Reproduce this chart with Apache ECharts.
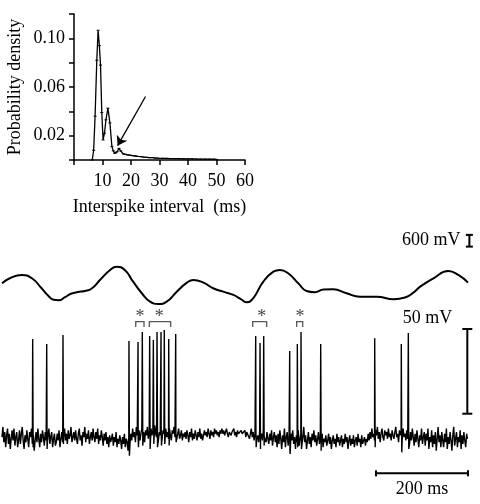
<!DOCTYPE html>
<html><head><meta charset="utf-8">
<script src="https://cdn.jsdelivr.net/npm/echarts@6/dist/echarts.min.js"></script>
<style>html,body{margin:0;padding:0;background:#fff}#c{width:480px;height:504px}</style>
</head><body><div id="c"></div>
<script>
// ---- Inset: interspike interval histogram ----
const isiX = [6.4,6.9,7.4,8.0,8.45,8.9,9.3,9.75,10.2,10.7,11.2,11.9,12.6,13.3,13.8,14.3,14.7,15.1,15.8,16.4,17.3,18.0,18.8,19.6,20.5,21.5,22.5,23.5,24.5,25.5,26.5,27.5,28.5,29.5,31.0,32.5,34.0,35.5,37.0,38.5,40.0,41.5,43.0,44.5,46.0,47.5,49.0,50.0];
const isiY = [0,0.008,0.036,0.082,0.1066,0.094,0.078,0.039,0.0165,0.022,0.033,0.0426,0.0305,0.011,0.0075,0.0055,0.006,0.0068,0.0096,0.0074,0.005,0.0047,0.0042,0.0040,0.0036,0.0033,0.0029,0.0028,0.0024,0.0022,0.0019,0.0020,0.0016,0.0015,0.0014,0.0013,0.0012,0.0011,0.0011,0.0010,0.0009,0.0010,0.0008,0.0007,0.0007,0.0006,0.0006,0.0005];
const isiYLabels = ['0.02','0.06','0.10'];
const arrowFrom = [25.1, 0.0522];
const arrowTo = [15.3, 0.0118];

// ---- Field potential (slow wave), time in ms, value in mV ----
const lfpT = [0,17,43,65,86,100,112,124,136,150,165,180,195,213,235,249,267,285,304,322,340,358,380,402,416,438,459,481,503,520,532,546,568,590,604,622,644,662,680,699,720,749,778,815,851,876,895,909,938,970,992,1013];
const lfpV = [66,322,491,322,-189,-560,-780,-800,-660,-470,-380,-330,-200,235,746,915,746,148,-445,-874,-991,-874,-363,97,235,97,-189,-363,-531,-760,-904,-700,148,659,746,577,66,-330,-390,-250,-240,-445,-618,-618,-751,-660,-400,-107,322,695,491,97];

// ---- Membrane potential trace: sampled every vmStep ms (mV) ----
const vmStep = 2;
const vmNoise = [
-60,-54,-63,-57,-66,-59,-55,-64,-58,-67,-61,-56,-62,-55,-65,-60,-57,-66,-62,-56,
-64,-58,-54,-62,-67,-59,-63,-56,-61,-66,-57,-60,-55,-64,-59,-68,-62,-57,-63,-55,
-61,-66,-58,-63,-56,-60,-65,-57,-62,-67,-59,-55,-64,-60,-57,-66,-61,-58,-65,-63,
-58,-62,-56,-66,-61,-57,-63,-59,-55,-62,-58,-64,-56,-61,-59,-54,-63,-60,-57,-62,
-56,-61,-64,-58,-55,-62,-59,-65,-57,-60,-54,-63,-58,-61,-56,-64,-60,-57,-62,-55,
-60,-63,-57,-61,-55,-64,-59,-62,-56,-60,-65,-58,-62,-57,-64,-60,-66,-59,-63,-61,
-58,-65,-60,-63,-57,-66,-61,-64,-59,-62,-67,-60,-64,-58,-66,-61,-63,-68,-60,-65,
-58,-62,-55,-60,-57,-63,-54,-59,-61,-56,-62,-58,-55,-60,-57,-63,-56,-59,-54,-61,
-57,-62,-55,-59,-56,-61,-53,-58,-60,-55,-62,-57,-59,-54,-61,-56,-58,-63,-55,-60,
-57,-61,-55,-59,-62,-56,-58,-54,-60,-57,-63,-58,-55,-61,-59,-56,-62,-58,-60,-57,
-61,-56,-59,-63,-57,-60,-55,-62,-58,-61,-56,-59,-62,-57,-60,-55,-61,-58,-62,-59,
-56,-59,-57,-60,-55,-58,-61,-56,-59,-57,-60,-55,-58,-56,-59,-57,-60,-56,-58,-55,
-58,-56,-59,-57,-55,-58,-60,-57,-56,-59,-57,-58,-55,-59,-57,-60,-56,-58,-57,-59,
-56,-58,-57,-59,-56,-60,-57,-58,-56,-61,-58,-55,-60,-57,-62,-58,-56,-61,-59,-63,
-57,-61,-58,-62,-56,-60,-59,-63,-57,-61,-64,-58,-62,-56,-65,-60,-57,-63,-59,-66,
-58,-64,-56,-61,-67,-59,-63,-55,-66,-60,-57,-65,-61,-68,-58,-62,-56,-64,-60,-67,
-59,-63,-56,-65,-61,-58,-66,-60,-54,-63,-59,-67,-62,-57,-64,-60,-66,-58,-62,-56,
-63,-59,-65,-61,-57,-64,-60,-62,-58,-66,-61,-63,-59,-65,-62,-58,-64,-60,-67,-62,
-59,-64,-61,-66,-58,-63,-60,-65,-62,-59,-66,-61,-64,-58,-63,-60,-67,-62,-59,-65,
-61,-64,-59,-66,-62,-60,-65,-58,-63,-61,-66,-59,-64,-62,-60,-65,-61,-63,-58,-62,
-57,-61,-55,-60,-58,-62,-56,-59,-54,-61,-57,-63,-58,-55,-60,-62,-56,-59,-57,-61,
-55,-60,-58,-62,-56,-59,-61,-57,-54,-60,-58,-63,-56,-59,-57,-61,-55,-60,-58,-62,
-56,-61,-58,-64,-57,-62,-55,-60,-65,-58,-63,-56,-61,-66,-59,-62,-55,-64,-60,-57,
-65,-58,-62,-55,-67,-60,-63,-56,-66,-59,-64,-57,-68,-61,-54,-63,-59,-66,-57,-62,
-66,-58,-63,-55,-67,-60,-64,-57,-62,-68,-59,-54,-65,-61,-57,-66,-60,-63,-56,-67,
-59,-64,-57,-62,-66,-58,-61];
const spikeT = [66.7,97.2,132.6,276,295.7,305,321,329,337,345.7,352.8,362.4,377.6,551.5,560.9,568.9,625.4,642,650,692.8,810.2,868,883.3];
const spikePeak = [-2.1,-5.1,0.2,-3.3,-3.9,2,-0.4,-2.7,2,2,3.2,-2.1,0.8,-0.4,-4.5,-0.4,-9.2,-5.1,2,-5.1,-1.6,-5.1,1.4];
const spikeTrough = [-66,-65,-64,-71,-66,-65,-67,-64,-66,-65,-64,-65,-63,-66,-67,-65,-70,-66,-67,-68,-66,-69,-67];

// ---- Burst markers ----
const bracketT0 = [290.7,320.2,545,640.6];
const bracketT1 = [308.7,366.7,575.4,653.7];
const asteriskT = [300,342,564.6,647.8];

// ---- Scale bars ----
const vmBar = {t:1011.5, lo:-46.2, hi:3.8, label:'50 mV'};
const timeBar = {t0:813, t1:1013, v:-81.4, label:'200 ms'};
const lfpBar = {t:1016, lo:1940, hi:2540, label:'600 mV'};

const FONT = 'Liberation Serif';
const isiData = isiX.map((x,i)=>[x,isiY[i]]);
const lfpData = lfpT.map((t,i)=>[t,lfpV[i]]);
const vmData = vmNoise.map((v,i)=>[i*vmStep,v]);
spikeT.forEach((t,k)=>{
  const pre = vmNoise[Math.floor(t/vmStep)];
  vmData.push([t-0.4,pre]);
  vmData.push([t,spikePeak[k]]);
  vmData.push([t+1.0,spikeTrough[k]]);
});
vmData.sort((a,b)=>a[0]-b[0]);

const chart = echarts.init(document.getElementById('c'), null, {renderer:'canvas'});
const txt = {fontFamily:FONT, fontSize:18, color:'#000'};
const hidden = {show:false};
chart.setOption({
  animation:false,
  backgroundColor:'#fff',
  grid:[
    {left:74, top:14, width:171, height:146},
    {left:2, top:220, width:466, height:90},
    {left:2, top:310, width:466, height:161}
  ],
  xAxis:[
    {gridIndex:0, type:'value', min:0, max:60, interval:10,
     axisLine:{lineStyle:{color:'#000',width:1.5}},
     axisTick:{inside:false,length:5,lineStyle:{color:'#000',width:1.5}},
     axisLabel:Object.assign({margin:12, formatter:v=>v===0?'':String(v)},txt),
     splitLine:hidden,
     name:'Interspike interval  (ms)', nameLocation:'middle', nameGap:38, nameTextStyle:txt},
    {gridIndex:1, type:'value', min:0, max:1013, show:false},
    {gridIndex:2, type:'value', min:0, max:1013, show:false}
  ],
  yAxis:[
    {gridIndex:0, type:'value', min:0, max:0.12, interval:0.02,
     axisLine:{show:true,lineStyle:{color:'#000',width:1.5}},
     axisTick:{show:true,inside:false,length:5,lineStyle:{color:'#000',width:1.5}},
     axisLabel:Object.assign({margin:9, formatter:v=>{const s=v.toFixed(2);return isiYLabels.includes(s)?s:'';}},txt),
     splitLine:hidden,
     name:'Probability density', nameLocation:'middle', nameGap:50, nameRotate:90, nameTextStyle:txt},
    {gridIndex:1, type:'value', min:-1300, max:3300, show:false},
    {gridIndex:2, type:'value', min:-80, max:15, show:false}
  ],
  series:[
    {type:'line', xAxisIndex:0, yAxisIndex:0, data:isiData,
     symbol:'rect', symbolSize:[3,1], showSymbol:true,
     lineStyle:{color:'#000',width:1.3}, itemStyle:{color:'#000'},
     markLine:{silent:true, symbol:['none','arrow'], symbolSize:9,
       lineStyle:{color:'#000',width:1.3,type:'solid'}, label:{show:false},
       data:[[{coord:arrowFrom},{coord:arrowTo}]]}},
    {type:'line', xAxisIndex:1, yAxisIndex:1, data:lfpData, smooth:0.5,
     showSymbol:false, lineStyle:{color:'#000',width:2}},
    {type:'line', xAxisIndex:2, yAxisIndex:2, data:vmData, sampling:null,
     showSymbol:false, lineStyle:{color:'#000',width:1.4}},
    {type:'custom', xAxisIndex:2, yAxisIndex:2, clip:false,
     data:bracketT0.map((t,i)=>[t,bracketT1[i]]),
     renderItem:(p,api)=>{
       const a=api.coord([api.value(0),8.1]), b=api.coord([api.value(1),8.1]);
       const a2=api.coord([api.value(0),5.0]), b2=api.coord([api.value(1),5.0]);
       return {type:'polyline', shape:{points:[a2,a,b,b2]}, style:{stroke:'#555',lineWidth:1.3,fill:null}};
     }},
    {type:'custom', xAxisIndex:2, yAxisIndex:2, clip:false,
     data:asteriskT.map(t=>[t]),
     renderItem:(p,api)=>{
       const c=api.coord([api.value(0),11]);
       return {type:'text', style:{x:c[0],y:c[1],text:'*',fill:'#444',font:'18px "'+FONT+'"',textAlign:'center',textVerticalAlign:'middle'}};
     }},
    {type:'custom', xAxisIndex:2, yAxisIndex:2, clip:false, data:[[0]],
     renderItem:(p,api)=>{
       const top=api.coord([vmBar.t,vmBar.hi]), bot=api.coord([vmBar.t,vmBar.lo]);
       const l=api.coord([timeBar.t0,timeBar.v]), r=api.coord([timeBar.t1,timeBar.v]);
       const st={stroke:'#000',lineWidth:2};
       return {type:'group', children:[
         {type:'line',shape:{x1:top[0],y1:top[1],x2:bot[0],y2:bot[1]},style:st},
         {type:'line',shape:{x1:top[0]-5,y1:top[1],x2:top[0]+5,y2:top[1]},style:st},
         {type:'line',shape:{x1:bot[0]-5,y1:bot[1],x2:bot[0]+5,y2:bot[1]},style:st},
         {type:'text',style:{x:top[0]-15,y:top[1]-11,text:vmBar.label,fill:'#000',font:'18px "'+FONT+'"',textAlign:'right',textVerticalAlign:'middle'}},
         {type:'line',shape:{x1:l[0],y1:l[1],x2:r[0],y2:r[1]},style:st},
         {type:'line',shape:{x1:l[0],y1:l[1]-3,x2:l[0],y2:l[1]+3},style:st},
         {type:'line',shape:{x1:r[0],y1:r[1]-3,x2:r[0],y2:r[1]+3},style:st},
         {type:'text',style:{x:(l[0]+r[0])/2,y:l[1]+16,text:timeBar.label,fill:'#000',font:'18px "'+FONT+'"',textAlign:'center',textVerticalAlign:'middle'}}
       ]};
     }},
    {type:'custom', xAxisIndex:1, yAxisIndex:1, clip:false, data:[[0]],
     renderItem:(p,api)=>{
       const top=api.coord([lfpBar.t,lfpBar.hi]), bot=api.coord([lfpBar.t,lfpBar.lo]);
       const st={stroke:'#000',lineWidth:2};
       return {type:'group', children:[
         {type:'line',shape:{x1:top[0],y1:top[1],x2:bot[0],y2:bot[1]},style:st},
         {type:'line',shape:{x1:top[0]-3.5,y1:top[1],x2:top[0]+3.5,y2:top[1]},style:st},
         {type:'line',shape:{x1:bot[0]-3.5,y1:bot[1],x2:bot[0]+3.5,y2:bot[1]},style:st},
         {type:'text',style:{x:top[0]-9,y:(top[1]+bot[1])/2,text:lfpBar.label,fill:'#000',font:'18px "'+FONT+'"',textAlign:'right',textVerticalAlign:'middle'}}
       ]};
     }}
  ]
});
</script></body></html>
